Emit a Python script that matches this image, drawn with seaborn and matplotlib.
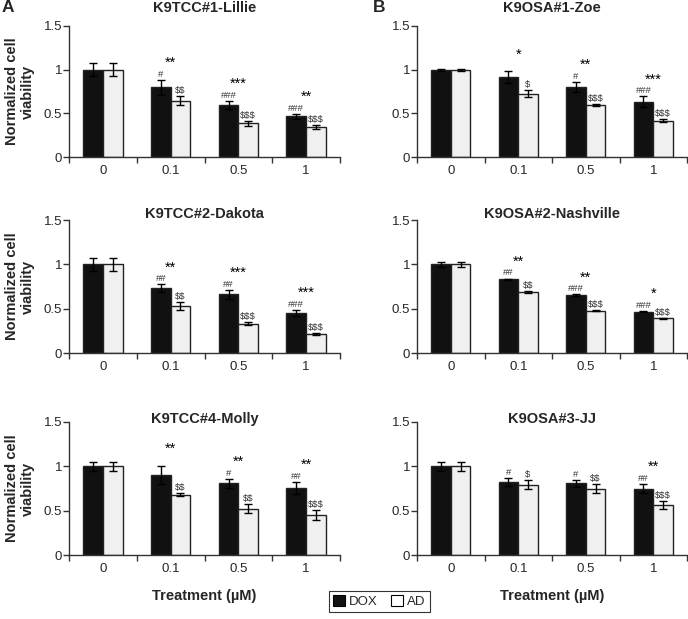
"""
Cell viability after DOX / AD treatment in six canine cell lines
"""

import numpy as np
import pandas as pd
import matplotlib
matplotlib.use("Agg")
import matplotlib.pyplot as plt
from matplotlib.patches import Patch
import seaborn as sns

doses = ["0", "0.1", "0.5", "1"]
treatments = ["DOX", "AD"]

titles = ["K9TCC#1-Lillie", "K9OSA#1-Zoe",
          "K9TCC#2-Dakota", "K9OSA#2-Nashville",
          "K9TCC#4-Molly", "K9OSA#3-JJ"]

# mean viability and error per cell line
dox_means = [
    [1.0, 0.80, 0.595, 0.465],
    [1.0, 0.913, 0.80, 0.633],
    [1.0, 0.73, 0.663, 0.45],
    [1.0, 0.83, 0.65, 0.468],
    [1.0, 0.906, 0.81, 0.757],
    [1.0, 0.824, 0.81, 0.75],
]
dox_errs = [
    [0.075, 0.085, 0.05, 0.03],
    [0.01, 0.07, 0.06, 0.06],
    [0.07, 0.045, 0.05, 0.035],
    [0.025, 0.01, 0.01, 0.005],
    [0.05, 0.10, 0.05, 0.065],
    [0.05, 0.045, 0.04, 0.05],
]
ad_means = [
    [1.0, 0.645, 0.386, 0.345],
    [1.0, 0.727, 0.595, 0.417],
    [1.0, 0.53, 0.33, 0.213],
    [1.0, 0.69, 0.475, 0.39],
    [1.0, 0.68, 0.524, 0.45],
    [1.0, 0.794, 0.75, 0.56],
]
ad_errs = [
    [0.075, 0.055, 0.03, 0.02],
    [0.01, 0.045, 0.015, 0.02],
    [0.07, 0.04, 0.015, 0.01],
    [0.025, 0.01, 0.005, 0.005],
    [0.05, 0.02, 0.05, 0.06],
    [0.05, 0.05, 0.055, 0.045],
]

# significance marks
dox_marks = [
    ["", "#", "###", "###"],
    ["", "", "#", "###"],
    ["", "##", "##", "###"],
    ["", "##", "###", "###"],
    ["", "", "#", "##"],
    ["", "#", "#", "##"],
]
ad_marks = [
    ["", "$$", "$$$", "$$$"],
    ["", "$", "$$$", "$$$"],
    ["", "$$", "$$$", "$$$"],
    ["", "$$", "$$$", "$$$"],
    ["", "$$", "$$", "$$$"],
    ["", "$", "$$", "$$$"],
]
stars = [
    ["", "**", "***", "**"],
    ["", "*", "**", "***"],
    ["", "**", "***", "***"],
    ["", "**", "**", "*"],
    ["", "**", "**", "**"],
    ["", "", "", "**"],
]

sns.set_style("ticks")
plt.rcParams['font.family'] = ['Liberation Sans', 'DejaVu Sans']

W, H = 688, 619
fig = plt.figure(figsize=(W / 100, H / 100), dpi=100)

col_px = [(69, 340), (417, 687)]
row_px = [(26, 157), (220, 353), (422, 555)]
title_px = [8, 214, 419]

colors = ["#111111", "#f0f0f0"]

for k in range(6):
    r, c = divmod(k, 2)
    x0, x1 = col_px[c]
    y0, y1 = row_px[r]
    ax = fig.add_axes([x0 / W, 1 - y1 / H, (x1 - x0) / W, (y1 - y0) / H])

    df = pd.DataFrame({
        "dose": doses * 2,
        "treatment": ["DOX"] * 4 + ["AD"] * 4,
        "viability": dox_means[k] + ad_means[k],
    })
    sns.barplot(data=df, x="dose", y="viability", hue="treatment",
                order=doses, hue_order=treatments, palette=colors,
                saturation=1, width=0.58, errorbar=None, legend=False,
                edgecolor="#222222", linewidth=1, ax=ax)

    for cont, means, errs, marks in zip(ax.containers,
                                        [dox_means[k], ad_means[k]],
                                        [dox_errs[k], ad_errs[k]],
                                        [dox_marks[k], ad_marks[k]]):
        for bar, m, e, mk in zip(cont, means, errs, marks):
            xc = bar.get_x() + bar.get_width() / 2
            ax.errorbar(xc, m, yerr=e, fmt="none", ecolor="black",
                        elinewidth=1, capsize=3, capthick=1)
            if mk:
                ax.text(xc, m + e + 0.012, mk, ha="center", va="bottom",
                        fontsize=6.8, color="#333333", parse_math=False)

    for i, s in enumerate(stars[k]):
        if s:
            top = dox_means[k][i] + dox_errs[k][i]
            ax.text(i, top + 0.145, s, ha="center", va="baseline",
                    fontsize=10.5, color="black")

    ax.set_xlim(-0.5, 3.5)
    ax.set_ylim(0, 1.5)
    ax.set_yticks([0, 0.5, 1, 1.5])
    ax.set_yticklabels(["0", "0.5", "1", "1.5"])
    ax.set_xticks(range(4))
    ax.set_xticklabels(doses)
    ax.set_xticks(np.arange(-0.5, 4, 1), minor=True)
    ax.tick_params(axis="x", which="major", length=0, pad=6, labelsize=9.5)
    ax.tick_params(axis="x", which="minor", length=4, width=1, color="#333333")
    ax.tick_params(axis="y", length=4, width=1, pad=1, labelsize=9.5,
                   color="#333333")
    ax.set_xlabel("")
    ax.set_ylabel("")
    sns.despine(ax=ax)
    for sp in ["left", "bottom"]:
        ax.spines[sp].set_color("#333333")
        ax.spines[sp].set_linewidth(1)

    fig.text((x0 + x1) / 2 / W, 1 - title_px[r] / H, titles[k],
             ha="center", va="center", fontsize=10.5, fontweight="bold")

    if c == 0:
        fig.text(20 / W, 1 - (y0 + y1) / 2 / H, "Normalized cell\nviability",
                 ha="center", va="center", rotation=90, fontsize=10.5,
                 fontweight="bold", linespacing=1.15)
    if r == 2:
        fig.text((x0 + x1) / 2 / W, 1 - 596 / H, "Treatment (µM)",
                 ha="center", va="center", fontsize=10.5, fontweight="bold")

fig.text(8 / W, 1 - 8 / H, "A", ha="center", va="center",
         fontsize=12.5, fontweight="bold")
fig.text(379 / W, 1 - 8 / H, "B", ha="center", va="center",
         fontsize=12.5, fontweight="bold")

handles = [Patch(facecolor=colors[0], edgecolor="black", linewidth=0.8),
           Patch(facecolor="white", edgecolor="black", linewidth=0.8)]
leg = fig.legend(handles, treatments, loc="center",
                 bbox_to_anchor=(379.5 / W, 1 - 601.5 / H), ncol=2,
                 frameon=True, fancybox=False, edgecolor="black",
                 fontsize=9.5, handlelength=0.9, handleheight=0.9,
                 handletextpad=0.3, columnspacing=1.0, borderpad=0.3)
leg.get_frame().set_linewidth(0.8)

plt.savefig("out.png", dpi=100)
plt.close()
